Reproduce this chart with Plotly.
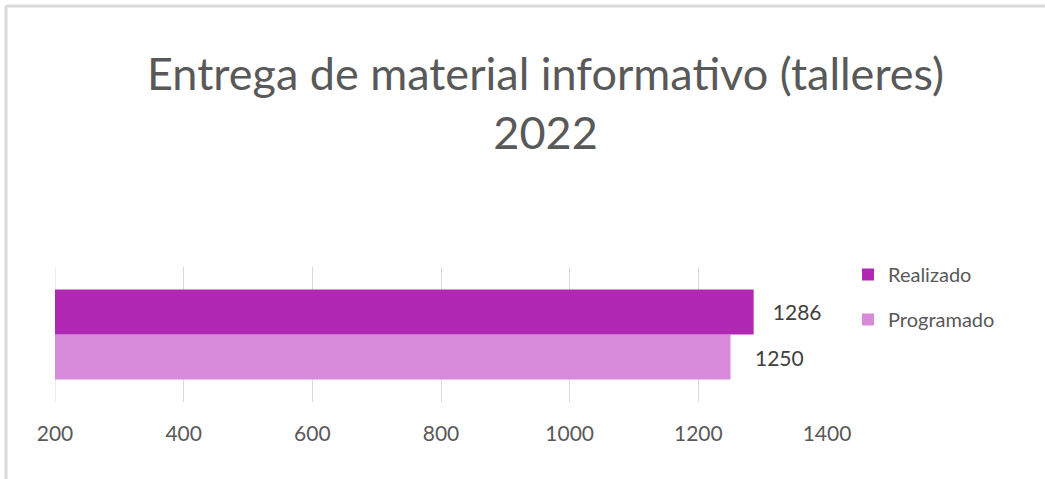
import plotly.graph_objects as go

# data
categoria = ["2022"]
realizado = [1286]
programado = [1250]
ticks = [200, 400, 600, 800, 1000, 1200, 1400]
titulo = "Entrega de material informativo (talleres)<br>2022"

W, H = 1045, 479
ml, mr, mt, mb = 55, 218, 267, 77
pw, ph = W - ml - mr, H - mt - mb

gris = "#595959"
fuente = "Lato"
nb = "\u00a0"

fig = go.Figure()

# programado first so it sits below realizado
fig.add_trace(go.Bar(
    y=categoria, x=programado, orientation="h", name="Programado",
    marker=dict(color="#D68AD9", line=dict(width=0)),
    text=programado, texttemplate=nb * 4 + "%{x}", textposition="outside",
    textfont=dict(size=21, color="#404040", family=fuente),
    legendrank=2, legendgroup="p",
))
fig.add_trace(go.Bar(
    y=categoria, x=realizado, orientation="h", name="Realizado",
    marker=dict(color="#B128B5", line=dict(width=0)),
    text=realizado, texttemplate=nb * 3 + "%{x}", textposition="outside",
    textfont=dict(size=21, color="#404040", family=fuente),
    legendrank=1, legendgroup="r",
))


def px(x):
    return (x - ml) / pw


def py(y):
    return (H - mb - y) / ph


fig.update_layout(
    width=W, height=H,
    margin=dict(l=ml, r=mr, t=mt, b=mb),
    paper_bgcolor="white", plot_bgcolor="white",
    barmode="group", bargap=0.333,
    font=dict(family=fuente, color=gris, size=20),
    xaxis=dict(
        range=[200, 1400], tickvals=ticks, showgrid=True,
        gridcolor="#D9D9D9", gridwidth=1, zeroline=False, showline=False,
        ticks="", ticklabelstandoff=17,
        tickfont=dict(size=21, color=gris, family=fuente),
    ),
    yaxis=dict(showticklabels=False, showgrid=False, zeroline=False,
               range=[-0.5, 0.5]),
    legend=dict(
        x=px(848), xanchor="left", y=py(255), yanchor="top",
        font=dict(size=20, color=gris, family=fuente),
        tracegroupgap=16, bgcolor="rgba(0,0,0,0)",
    ),
    annotations=[dict(
        text=titulo, xref="paper", yref="paper",
        x=px(545), y=py(102), xanchor="center", yanchor="middle",
        showarrow=False, font=dict(size=45, color=gris, family=fuente),
    )],
    shapes=[
        # gridline at the left edge of the axis (plotly hides it)
        dict(type="line", xref="x", yref="paper", layer="below",
             x0=ticks[0], x1=ticks[0], y0=0, y1=1,
             line=dict(color="#D9D9D9", width=1)),
        dict(type="line", xref="paper", yref="paper",
             x0=px(6), x1=px(W + 5), y0=py(6), y1=py(6),
             line=dict(color="#D9D9D9", width=3)),
        dict(type="line", xref="paper", yref="paper",
             x0=px(6), x1=px(6), y0=py(6), y1=py(H + 5),
             line=dict(color="#D9D9D9", width=3)),
    ],
)

fig.write_html("out.html", config={"displayModeBar": False},
               post_script="document.body.style.margin='0';")
